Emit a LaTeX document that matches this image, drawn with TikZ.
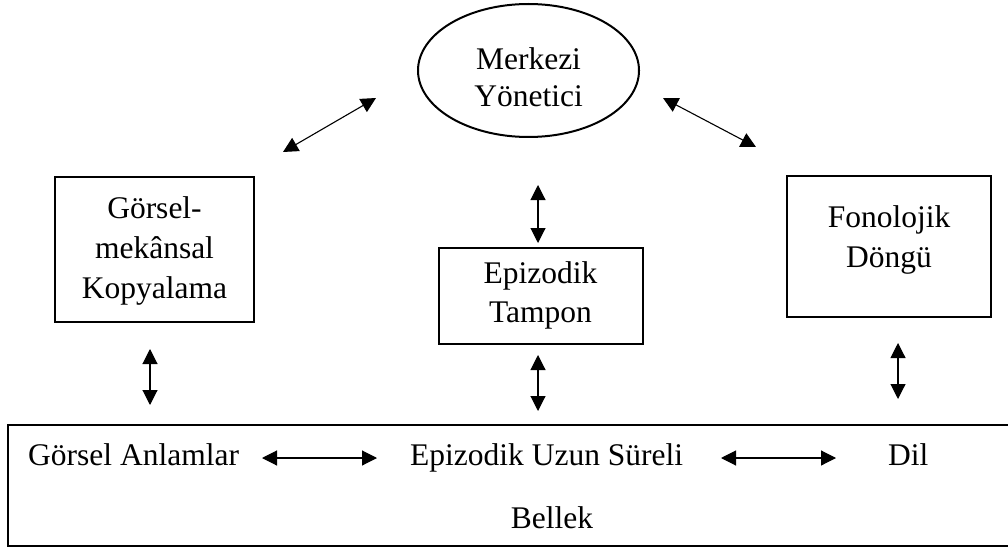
\documentclass[tikz,border=0pt]{standalone}
\usepackage{fontspec}
\setmainfont{Liberation Serif}
\usetikzlibrary{shapes.geometric,arrows.meta}
\begin{document}
\begin{tikzpicture}[x=1pt,y=-1pt,
  txt/.style={font=\fontsize{31.5}{40}\selectfont,inner sep=0pt,align=center,anchor=base},
  boxline/.style={draw=black,line width=2pt},
  dbl/.style={line width=1.1pt,{Triangle[length=15pt,width=15pt]}-{Triangle[length=15pt,width=15pt]}}]
\useasboundingbox (0,0) rectangle (1008,548);
% central executive
\node[ellipse,boxline,minimum width=221pt,minimum height=133pt,inner sep=0pt] (ce) at (528.5,70.5) {};
\node[txt,font=\fontsize{31.5}{37}\selectfont] (cet) at (528.5,107) {Merkezi\\Yönetici};
% boxes
\draw[boxline] (55,177) rectangle (254,322);
\node[txt] (vs) at (154.5,298) {Görsel-\\mekânsal\\Kopyalama};
\draw[boxline] (439,248) rectangle (643,344);
\node[txt,font=\fontsize{31.5}{39.5}\selectfont] (eb) at (540.5,322.5) {Epizodik\\Tampon};
\draw[boxline] (787,176) rectangle (991,317);
\node[txt,font=\fontsize{31.5}{39.5}\selectfont] (pl) at (889,267) {Fonolojik\\Döngü};
% long-term memory box
\draw[boxline,line width=2.3pt] (8,425) rectangle (1020,546);
\node[txt,anchor=base west] (va) at (28,465) {Görsel Anlamlar};
\node[txt,anchor=base west] (el) at (410,465) {Epizodik Uzun Süreli};
\node[txt,anchor=base west] (dil) at (888,465) {Dil};
\node[txt] (bel) at (552,528) {Bellek};
% arrow end points
\coordinate (a1) at (283,152); \coordinate (a2) at (376,98);
\coordinate (b1) at (663,98);  \coordinate (b2) at (756,147);
\coordinate (c1) at (150,349); \coordinate (c2) at (150,405);
\coordinate (d1) at (538,185); \coordinate (d2) at (538,243);
\coordinate (e1) at (538,355); \coordinate (e2) at (538,411);
\coordinate (f1) at (898,343); \coordinate (f2) at (898,399);
\coordinate (g1) at (262,458); \coordinate (g2) at (377,458);
\coordinate (h1) at (721,458); \coordinate (h2) at (836,458);
\draw[dbl] (a1) -- (a2);
\draw[dbl] (b1) -- (b2);
\draw[dbl] (c1) -- (c2);
\draw[dbl] (d1) -- (d2);
\draw[dbl] (e1) -- (e2);
\draw[dbl] (f1) -- (f2);
\draw[dbl] (g1) -- (g2);
\draw[dbl] (h1) -- (h2);
\end{tikzpicture}
\end{document}
